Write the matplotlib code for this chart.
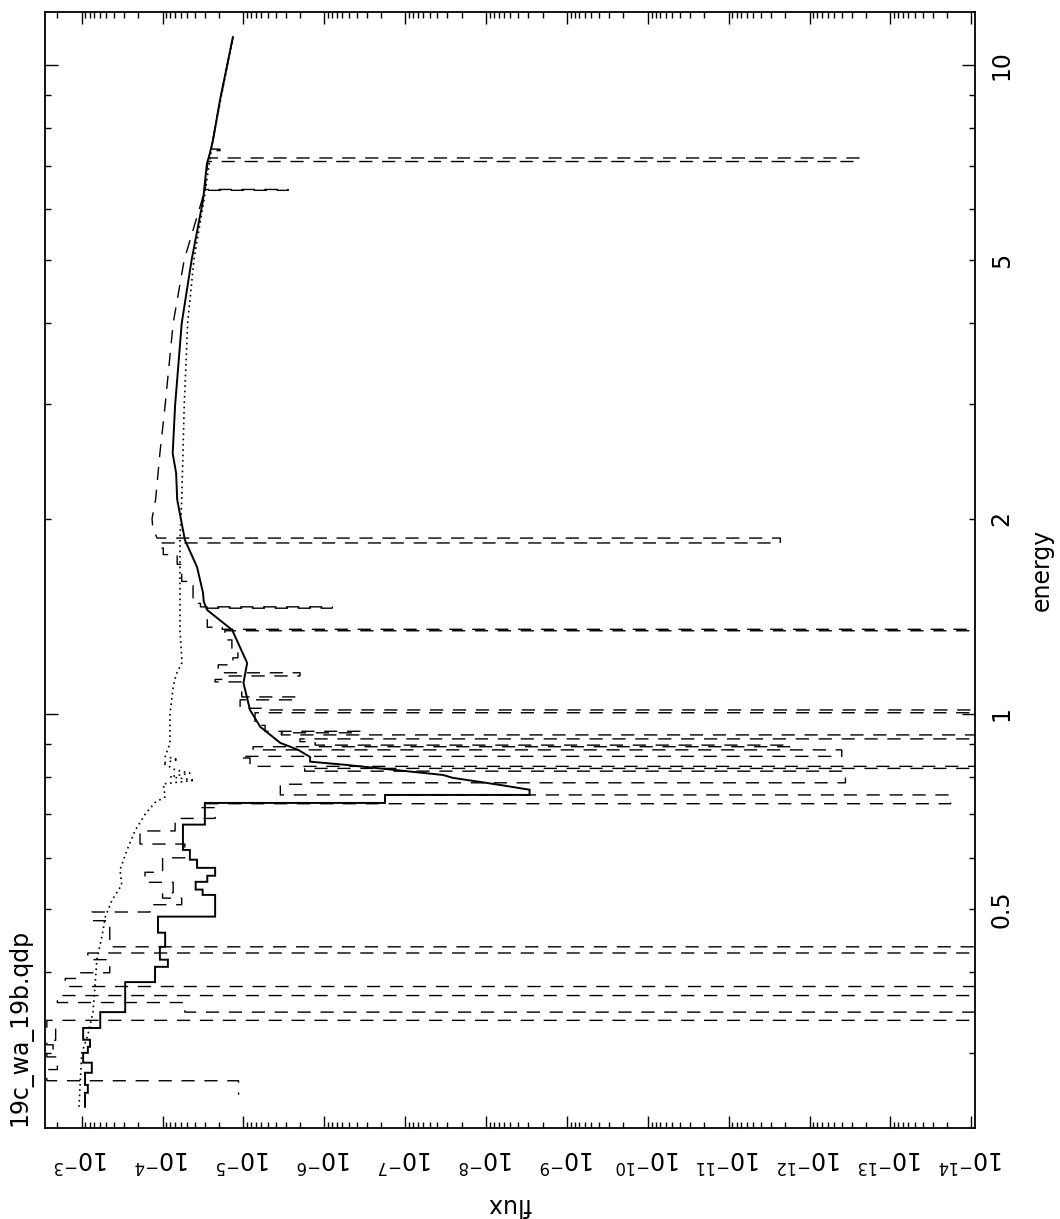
import matplotlib
matplotlib.use("Agg")
import matplotlib.pyplot as plt
from matplotlib.ticker import FixedLocator, FixedFormatter, NullFormatter

# ---------------- data (energy in keV, flux) ----------------
OFF = 1e-16   # bins whose flux drops below the plotted range

# solid model: smooth upper part (descending energy)
solid_smooth_E = [11.04, 8.83, 7.66, 7.27, 7.05, 6.19, 5.01, 4.00, 2.99, 2.52, 2.35, 2.14,
                  1.854, 1.684, 1.536, 1.49, 1.446, 1.347, 1.198, 1.116, 1.014, 0.955, 0.902,
                  0.880, 0.858, 0.844, 0.834, 0.820, 0.805, 0.797, 0.777, 0.764]
solid_smooth_f = [1.35e-5, 1.95e-5, 2.38e-5, 2.63e-5, 2.83e-5, 3.16e-5, 4.37e-5, 5.8e-5, 7.0e-5,
                  7.5e-5, 6.8e-5, 6.6e-5, 5.3e-5, 3.75e-5, 3.16e-5, 3.1e-5, 2.82e-5, 1.38e-5,
                  9.0e-6, 1.0e-5, 8.3e-6, 6.2e-6, 3.5e-6, 2.1e-6, 1.5e-6, 1.5e-6, 5.2e-7,
                  1.41e-7, 3.4e-8, 2.6e-8, 6.7e-9, 2.9e-9]
# solid model: stepped lower part (bin edges descending, one flux per bin)
solid_step_edges = [0.764, 0.750, 0.729, 0.675, 0.617, 0.596, 0.579, 0.563, 0.551, 0.536, 0.526,
                    0.487, 0.460, 0.4375, 0.418, 0.4075, 0.386, 0.347, 0.328, 0.3146, 0.3068,
                    0.3003, 0.290, 0.2798, 0.268, 0.2606, 0.248]
solid_step_f = [2.9e-9, 1.78e-7, 3.0e-5, 5.6e-5, 4.6e-5, 3.75e-5, 2.24e-5, 2.8e-5, 3.9e-5, 3.2e-5,
                2.24e-5, 1.14e-4, 9.3e-5, 1.08e-4, 8.6e-5, 1.24e-4, 2.9e-4, 5.9e-4, 9.6e-4,
                7.9e-4, 8.4e-4, 9.6e-4, 7.5e-4, 9.1e-4, 8.4e-4, 9.1e-4]

# dashed model: upper part (descending energy, narrow absorption bins included)
dash_top_E = [11.04, 8.83, 7.66, 7.42, 7.42, 7.38, 7.38, 7.19, 7.19, 7.10, 7.10, 6.43, 6.43,
              6.41, 6.41, 6.19, 5.01, 4.00, 2.99, 2.52, 2.14, 2.00, 1.93, 1.866]
dash_top_f = [1.35e-5, 1.95e-5, 2.38e-5, 2.5e-5, 1.95e-5, 1.95e-5, 2.55e-5, 2.7e-5, 2.4e-13,
              2.4e-13, 2.75e-5, 3.0e-5, 2.8e-6, 2.8e-6, 3.05e-5, 3.26e-5, 5.4e-5, 7.4e-5,
              9.3e-5, 1.08e-4, 1.22e-4, 1.35e-4, 1.32e-4, 1.17e-4]
# dashed model: stepped lower part
dash_step_edges = [1.866, 1.834, 1.801, 1.76, 1.70, 1.60, 1.48, 1.462, 1.455, 1.36, 1.35, 1.343,
                   1.30, 1.26, 1.22, 1.19, 1.157, 1.144, 1.13, 1.12, 1.062, 1.051, 1.02, 1.014,
                   1.004, 0.96, 0.94, 0.935, 0.928, 0.915, 0.906, 0.895, 0.89, 0.88, 0.86,
                   0.855, 0.83, 0.824, 0.816, 0.783, 0.779, 0.76, 0.75, 0.727, 0.717, 0.69,
                   0.66, 0.63, 0.60, 0.57, 0.55, 0.53, 0.52, 0.508, 0.495, 0.48, 0.4375, 0.428,
                   0.418, 0.399, 0.391, 0.38, 0.368, 0.359, 0.347, 0.337, 0.328, 0.314, 0.309,
                   0.300, 0.296, 0.283, 0.272, 0.2588, 0.248]
dash_step_f = [2.3e-12, 1.1e-4, 9.8e-5, 6.6e-5, 5.8e-5, 4.2e-5, 3.4e-5, 8.0e-7, 2.8e-5, 1.83e-5,
               OFF, 1.7e-5, 1.39e-5, 1.17e-5, 1.35e-5, 2.05e-5, 2.0e-6, 1.6e-5, 2.24e-5, 1.05e-5,
               2.17e-6, 1.1e-5, 6.0e-6, OFF, 7.2e-6, 5.4e-6, 3.6e-7, 3.4e-6, OFF, 2.0e-6,
               1.3e-6, 1.7e-12, 7.6e-6, 4.0e-13, 1.1e-5, 8.3e-6, OFF, 1.75e-6, 3.6e-13,
               1.5e-6, 3.5e-6, 3.5e-6, 1.8e-14, 3.4e-5, 2.24e-5, 7.0e-5, 1.9e-4, 5.3e-5,
               1.0e-4, 1.65e-4, 7.4e-5, 1.0e-4, 5.8e-5, 1.43e-4, 7.5e-4, 4.5e-4, OFF, 8.4e-4,
               4.5e-4, 1.05e-3, 1.6e-3, OFF, 2.0e-3, 5.3e-5, OFF, 2.7e-3, 2.1e-3, 2.7e-3,
               2.26e-3, 2.7e-3, 2.0e-3, 2.7e-3, 1.15e-5]

# dotted model
dot_E = [11.04, 7.66, 6.19, 5.01, 4.00, 2.99, 2.52, 2.14, 1.854, 1.60, 1.347, 1.20, 1.15, 1.10,
         1.0, 0.90, 0.86, 0.85, 0.84, 0.82, 0.81, 0.80, 0.79, 0.78, 0.745, 0.73, 0.70, 0.66,
         0.617, 0.575, 0.545, 0.517, 0.487, 0.455, 0.418, 0.386, 0.347, 0.32, 0.30, 0.248]
dot_f = [1.35e-5, 2.4e-5, 3.08e-5, 4.1e-5, 4.9e-5, 5.4e-5, 5.6e-5, 5.8e-5, 6.1e-5, 6.1e-5,
         6.1e-5, 5.75e-5, 6.8e-5, 7.4e-5, 8.1e-5, 8.1e-5, 9.3e-5, 6.4e-5, 1.0e-4, 7.0e-5,
         4.6e-5, 8.1e-5, 4.0e-5, 9.8e-5, 9.3e-5, 1.24e-4, 1.65e-4, 2.2e-4, 2.75e-4, 3.36e-4,
         3.2e-4, 4.2e-4, 5.1e-4, 5.6e-4, 6.5e-4, 6.8e-4, 7.25e-4, 8.4e-4, 1.0e-3, 1.08e-3]

flux_ticks = [10.0 ** -k for k in range(3, 15)]
flux_labels = [r"$10^{-%d}$" % k for k in range(3, 15)]
energy_ticks = [0.5, 1, 2, 5, 10]
energy_labels = ["0.5", "1", "2", "5", "10"]

# ---------------- helpers ----------------
def steps(edges, levels):
    xs, ys = [], []
    for i, lv in enumerate(levels):
        xs += [lv, lv]
        ys += [edges[i], edges[i + 1]]
    return xs, ys

W, H = 1060, 1219
plt.rcParams['font.family'] = ['DejaVu Sans']
plt.rcParams['mathtext.default'] = 'regular'
fig = plt.figure(figsize=(W / 100, H / 100), dpi=100)
ax = fig.add_axes([45 / W, 1 - 1128 / H, (974.7 - 45) / W, (1128 - 12) / H])
ax.set_xscale('log')
ax.set_yscale('log')

sx, sy = steps(solid_step_edges, solid_step_f)
ax.plot(list(solid_smooth_f) + sx, list(solid_smooth_E) + sy, color='black', lw=1.4,
        solid_joinstyle='miter')
dx, dy = steps(dash_step_edges, dash_step_f)
ax.plot(list(dash_top_f) + dx, list(dash_top_E) + dy, color='black', lw=1.0,
        dashes=(9.5, 7.0))
ax.plot(dot_f, dot_E, color='black', lw=1.2, dashes=(1.0, 2.2))

ax.set_xlim(10 ** -2.546, 10 ** -14.042)
ax.set_ylim(0.230, 12.07)

PX = 72 / 100.0
ax.xaxis.set_major_locator(FixedLocator(flux_ticks))
ax.xaxis.set_major_formatter(FixedFormatter(flux_labels))
minor_x = [m * 10.0 ** -k for k in range(2, 16) for m in range(2, 10)]
ax.xaxis.set_minor_locator(FixedLocator(minor_x))
ax.xaxis.set_minor_formatter(NullFormatter())
ax.tick_params(axis='x', which='major', direction='in', length=12 * PX, width=1.0,
               top=True, bottom=True, labelsize=17, pad=16 * PX, labelrotation=180)
ax.tick_params(axis='x', which='minor', direction='in', length=6 * PX, width=1.0,
               top=True, bottom=True)

ax.yaxis.set_major_locator(FixedLocator(energy_ticks))
ax.yaxis.set_major_formatter(FixedFormatter(energy_labels))
minor_y = [0.3, 0.4, 0.6, 0.7, 0.8, 0.9, 3, 4, 6, 7, 8, 9]
ax.yaxis.set_minor_locator(FixedLocator(minor_y))
ax.yaxis.set_minor_formatter(NullFormatter())
ax.tick_params(axis='y', which='major', direction='in', length=13 * PX, width=1.0,
               left=True, right=True, labelleft=False, labelright=True,
               labelsize=17, pad=15 * PX, labelrotation=90)
ax.tick_params(axis='y', which='minor', direction='in', length=6 * PX, width=1.0,
               left=True, right=True)
for t, loc in zip(ax.yaxis.get_major_ticks(), energy_ticks):
    if loc not in (1, 10):
        t.tick1line.set_markersize(6 * PX)
        t.tick2line.set_markersize(6 * PX)
for lab in ax.get_yticklabels():
    lab.set_verticalalignment('center')

for sp in ax.spines.values():
    sp.set_linewidth(1.3)

fig.text(1042 / W, 1 - 570 / H, 'energy', rotation=90, ha='center', va='center', fontsize=17)
fig.text(510 / W, 1 - 1205 / H, 'flux', rotation=180, ha='center', va='center', fontsize=17)
fig.text(20 / W, 1 - 1126 / H, '19c_wa_19b.qdp', rotation=90, ha='center', va='bottom',
         fontsize=17)

fig.savefig('out.png', dpi=100)
